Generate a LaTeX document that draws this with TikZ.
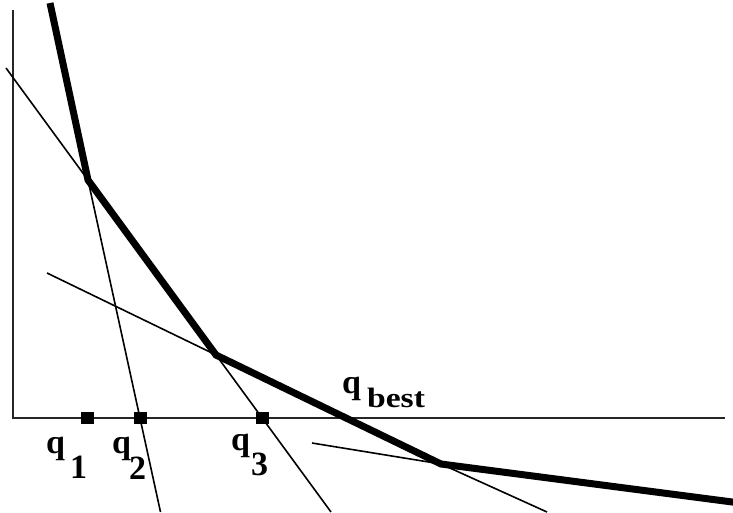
\documentclass[tikz,border=0pt]{standalone}
\usepackage{graphicx}
\usepackage{fontspec}
\setmainfont{Liberation Serif}
\begin{document}
\begin{tikzpicture}[x=1pt,y=-1pt,
  axisline/.style={line width=1.8pt, black!85},
  cutline/.style={line width=1.6pt, black},
  envline/.style={line width=7pt, black, line join=miter},
  mark sq/.style={fill=black, draw=none, minimum width=13pt, minimum height=12pt, inner sep=0pt},
  lbl/.style={anchor=base west, inner sep=0pt, font=\fontsize{34}{40}\selectfont\bfseries}]
\useasboundingbox (0,0) rectangle (733,512);
\fill[white] (0,0) rectangle (733,512);
\clip (0,0) rectangle (733,512);
% axes
\coordinate (ytop) at (13,10);
\coordinate (origin) at (13,418);
\coordinate (xend) at (725,418);
\draw[axisline] (ytop) -- (origin) -- (xend);
% envelope corners
\coordinate (e0) at (50,3);
\coordinate (c1) at (88,180);
\coordinate (c2) at (216,355);
\coordinate (c3) at (441,464);
\coordinate (e4) at (740,503);
% thin cutting lines
\coordinate (l1a) at (6,68);
\coordinate (l1b) at (331,512);
\coordinate (l2b) at (160.5,512);
\coordinate (l3a) at (47,273);
\coordinate (l3b) at (547,512);
\coordinate (l4a) at (312,443);
\draw[cutline] (l1a) -- (l1b);
\draw[cutline] (c1) -- (l2b);
\draw[cutline] (l3a) -- (c3) -- (l3b);
\draw[cutline] (l4a) -- (c3);
\draw[envline] (e0) -- (c1) -- (c2) -- (c3) -- (e4);
% marks on axis
\node[mark sq] (m1) at (87,418) {};
\node[mark sq] (m2) at (140,418) {};
\node[mark sq] (m3) at (262,418) {};
% labels
\node[lbl] (q1) at (46,453) {q\kern5pt\raisebox{-25pt}{1}};
\node[lbl] (q2) at (112,453) {q\kern-2pt\raisebox{-26pt}{2}};
\node[lbl] (q3) at (231,450) {q\kern1pt\raisebox{-25pt}{3}};
\node[lbl] (qb) at (342,393) {q\kern6pt\raisebox{-14pt}{\fontsize{28}{30}\selectfont\scalebox{1.2}[1]{best}}};
\end{tikzpicture}
\end{document}
